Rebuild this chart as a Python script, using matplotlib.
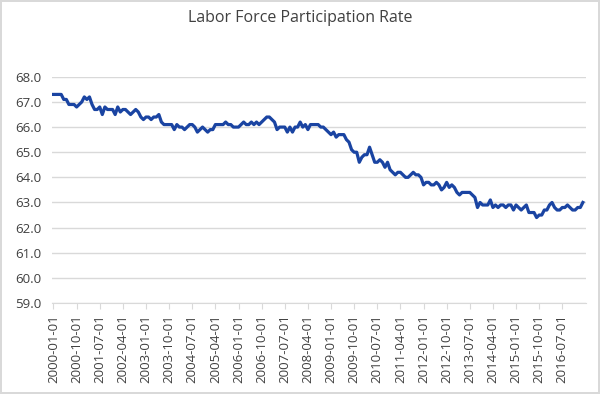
import matplotlib.pyplot as plt
import pandas as pd

# Monthly civilian labor force participation rate, 2000-01 .. 2017-02
rate_2000 = [67.3, 67.3, 67.3, 67.3, 67.1, 67.1, 66.9, 66.9, 66.9, 66.8, 66.9, 67.0]
rate_2001 = [67.2, 67.1, 67.2, 66.9, 66.7, 66.7, 66.8, 66.5, 66.8, 66.7, 66.7, 66.7]
rate_2002 = [66.5, 66.8, 66.6, 66.7, 66.7, 66.6, 66.5, 66.6, 66.7, 66.6, 66.4, 66.3]
rate_2003 = [66.4, 66.4, 66.3, 66.4, 66.4, 66.5, 66.2, 66.1, 66.1, 66.1, 66.1, 65.9]
rate_2004 = [66.1, 66.0, 66.0, 65.9, 66.0, 66.1, 66.1, 66.0, 65.8, 65.9, 66.0, 65.9]
rate_2005 = [65.8, 65.9, 65.9, 66.1, 66.1, 66.1, 66.1, 66.2, 66.1, 66.1, 66.0, 66.0]
rate_2006 = [66.0, 66.1, 66.2, 66.1, 66.1, 66.2, 66.1, 66.2, 66.1, 66.2, 66.3, 66.4]
rate_2007 = [66.4, 66.3, 66.2, 65.9, 66.0, 66.0, 66.0, 65.8, 66.0, 65.8, 66.0, 66.0]
rate_2008 = [66.2, 66.0, 66.1, 65.9, 66.1, 66.1, 66.1, 66.1, 66.0, 66.0, 65.9, 65.8]
rate_2009 = [65.7, 65.8, 65.6, 65.7, 65.7, 65.7, 65.5, 65.4, 65.1, 65.0, 65.0, 64.6]
rate_2010 = [64.8, 64.9, 64.9, 65.2, 64.9, 64.6, 64.6, 64.7, 64.6, 64.4, 64.6, 64.3]
rate_2011 = [64.2, 64.1, 64.2, 64.2, 64.1, 64.0, 64.0, 64.1, 64.2, 64.1, 64.1, 64.0]
rate_2012 = [63.7, 63.8, 63.8, 63.7, 63.7, 63.8, 63.7, 63.5, 63.6, 63.8, 63.6, 63.7]
rate_2013 = [63.6, 63.4, 63.3, 63.4, 63.4, 63.4, 63.4, 63.3, 63.2, 62.8, 63.0, 62.9]
rate_2014 = [62.9, 62.9, 63.1, 62.8, 62.9, 62.8, 62.9, 62.9, 62.8, 62.9, 62.9, 62.7]
rate_2015 = [62.9, 62.8, 62.7, 62.8, 62.9, 62.6, 62.6, 62.6, 62.4, 62.5, 62.5, 62.7]
rate_2016 = [62.7, 62.9, 63.0, 62.8, 62.7, 62.7, 62.8, 62.8, 62.9, 62.8, 62.7, 62.7]
rate_2017 = [62.8, 62.8, 63.0]

rates = (rate_2000 + rate_2001 + rate_2002 + rate_2003 + rate_2004 + rate_2005
         + rate_2006 + rate_2007 + rate_2008 + rate_2009 + rate_2010 + rate_2011
         + rate_2012 + rate_2013 + rate_2014 + rate_2015 + rate_2016 + rate_2017)
dates = pd.date_range('2000-01-01', periods=len(rates), freq='MS').strftime('%Y-%m-%d')

y_ticks = [59.0, 60.0, 61.0, 62.0, 63.0, 64.0, 65.0, 66.0, 67.0, 68.0]
label_every = 9

plt.rcParams['font.family'] = ['Open Sans', 'DejaVu Sans']

fig = plt.figure(figsize=(6, 3.94), dpi=100)
fig.patch.set_edgecolor('#d9d9d9')
fig.patch.set_linewidth(1.5)
ax = fig.add_axes([0.087, 0.231, 0.89, 0.574])

x = list(range(len(rates)))
ax.plot(x, rates, color='#1a44a2', lw=2.3, solid_joinstyle='round')

ax.set_ylim(59, 68)
ax.set_yticks(y_ticks)
ax.set_yticklabels([f'{v:.1f}' for v in y_ticks], fontsize=9.5, color='#404040')
ax.yaxis.grid(True, color='#d9d9d9', lw=1)
ax.set_axisbelow(True)

ax.set_xlim(-0.5, len(rates) + 0.3)
pos = x[::label_every]
ax.set_xticks(pos)
ax.set_xticklabels(dates[::label_every], rotation=90, fontsize=9.5, color='#404040')

for s in ['top', 'right', 'left']:
    ax.spines[s].set_visible(False)
ax.spines['bottom'].set_color('#d9d9d9')
ax.tick_params(axis='y', length=0, pad=8)
ax.tick_params(axis='x', length=4, color='#d9d9d9', pad=4)

fig.suptitle('Labor Force Participation Rate', y=0.975, fontsize=11.5, color='#404040')

fig.savefig('out.png', dpi=100)
